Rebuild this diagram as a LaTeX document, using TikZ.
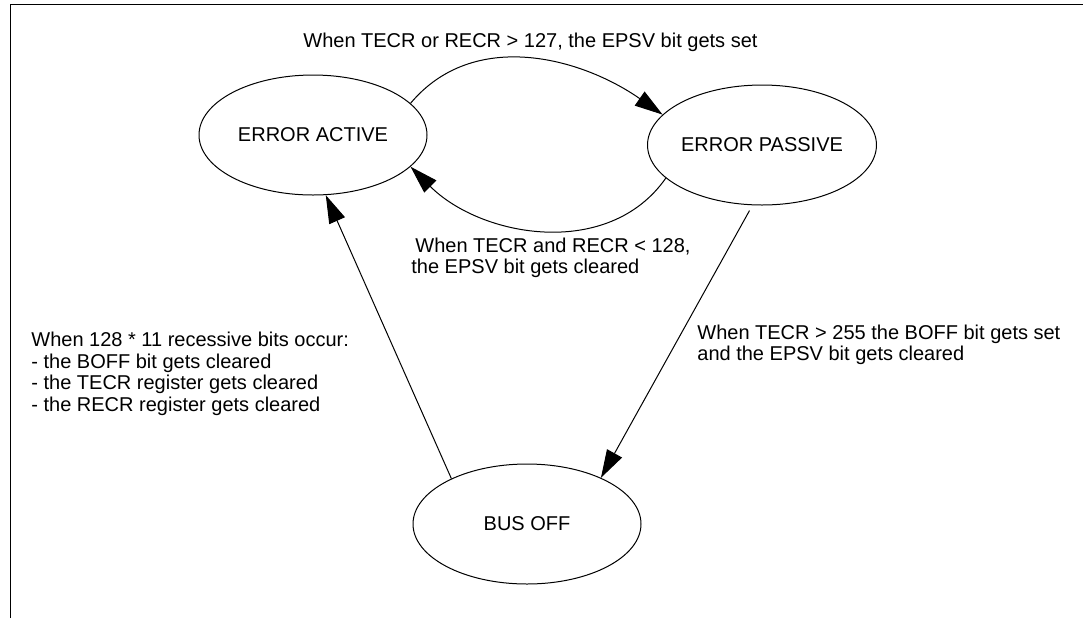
\documentclass[tikz,border=0pt]{standalone}
\usepackage{fontspec}
\setmainfont{Liberation Sans}
\usetikzlibrary{shapes.geometric,arrows.meta}

\begin{document}
\begin{tikzpicture}[x=0.5pt, y=0.5pt,
	estado/.style={ellipse, draw, line width=0.5pt, minimum width=114pt, minimum height=60pt, inner sep=0pt, font=\fontsize{10}{12}\selectfont},
	trans/.style={line width=0.5pt, -{Triangle[length=14pt,width=8.5pt]}},
	rotulo/.style={inner sep=0pt, anchor=west, align=left, font=\fontsize{10}{10.8}\selectfont}]

\useasboundingbox (0,0) rectangle (1083,-618);

% Marco
\draw[line width=0.5pt] (10,-618) -- (10,-4) -- (1083,-4);

% Estados
\node[estado] (EA) at (313,-135) {ERROR ACTIVE};
\node[estado] (EP) at (762,-145) {ERROR PASSIVE};
\node[estado] (BO) at (527,-524) {BUS OFF};

% Transiciones
	\draw[trans] (EA.18) to[out=50, in=145] (EP.163);
	\draw[trans] (EP.199) to[out=235, in=315] (EA.-18);
	\draw[trans] (BO.149) -- (EA.-78);
	\draw[trans, shorten <=3pt] (EP.-99) -- (BO.32);

% Textos
\node[rotulo] (T1) at (303,-42) {When TECR or RECR > 127, the EPSV bit gets set};
\node[rotulo] (T2) at (411,-258) {\hspace*{2pt}When TECR and RECR < 128,\\the EPSV bit gets cleared};
\node[rotulo] (T3) at (697,-345) {When TECR > 255 the BOFF bit gets set\\and the EPSV bit gets cleared};
\node[rotulo] (T4) at (31,-374) {When 128 * 11 recessive bits occur:\\- the BOFF bit gets cleared\\- the TECR register gets cleared\\- the RECR register gets cleared};
\end{tikzpicture}
\end{document}
